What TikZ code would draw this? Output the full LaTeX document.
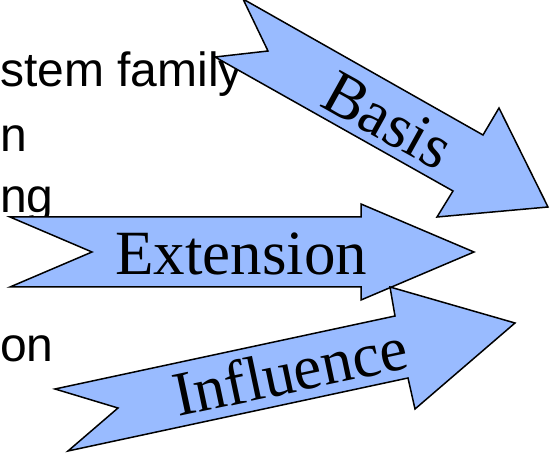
\documentclass[tikz,border=0pt]{standalone}
\usepackage{fontspec}
\setmainfont{Liberation Serif}
\newfontfamily\sansf{Liberation Sans}
\definecolor{arrowblue}{RGB}{153,187,255}
\tikzset{
  blockarrow/.style={fill=arrowblue, draw=black, line width=1.5pt, line join=miter},
  arrowlabel/.style={font=\fontsize{63}{63}\selectfont, inner sep=0pt, anchor=base west},
  bodytext/.style={font=\sansf\fontsize{48}{48}\selectfont, inner sep=0pt, anchor=base west}
}
\begin{document}
\begin{tikzpicture}[x=1pt, y=-1pt]
  \clip (0,0) rectangle (550,457);

  % bullet text lines behind the arrows
  \node[bodytext] (l1) at (0,87) {stem family};
  \node[bodytext] (l2) at (0,152) {n};
  \node[bodytext] (l3) at (0,213) {ng};
  \node[bodytext] (l4) at (0,362) {on};

  % Basis arrow, pointing down-right
  \draw[blockarrow] (243,-1) -- (483,135) -- (499,108) -- (548,207)
    -- (437,217) -- (453,191) -- (215,57) -- (268,51) -- cycle;
  \node[arrowlabel, rotate=-29] (basis) at (318,105) {Basis};

  % Extension arrow, horizontal
  \draw[blockarrow] (10,217) -- (361,217) -- (361,204) -- (474,252)
    -- (361,300) -- (361,287) -- (10,287) -- (92,252) -- cycle;
  \node[arrowlabel] (ext) at (115,275) {Extension};

  % Influence arrow, pointing up-right
  \draw[blockarrow] (55,389) -- (395,316) -- (390,287) -- (515,323)
    -- (415,409) -- (408,378) -- (68,451) -- (118,408) -- cycle;
  \node[arrowlabel, rotate=12] (infl) at (178,417) {Influence};
\end{tikzpicture}
\end{document}
